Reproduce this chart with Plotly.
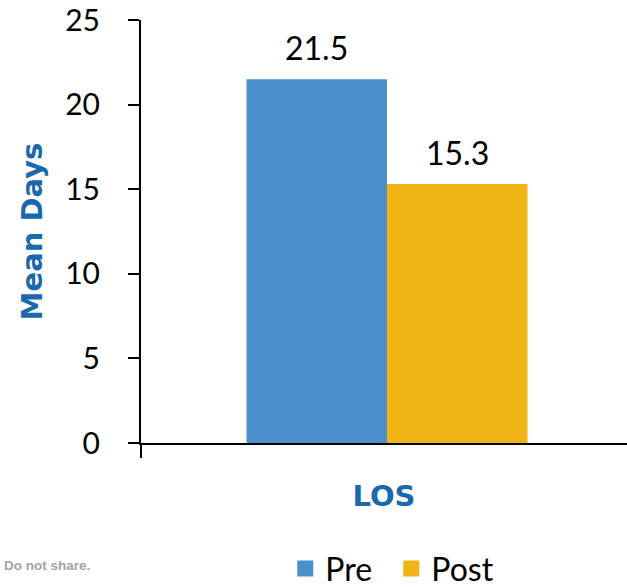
import plotly.graph_objects as go

categories = ["LOS"]
series_names = ["Pre", "Post"]
pre_values = [21.5]
post_values = [15.3]
y_ticks = [0, 5, 10, 15, 20, 25]

colors = {"Pre": "#4A90CD", "Post": "#F0B416"}
bar_w = 0.2856
offsets = {"Pre": -bar_w, "Post": 0.0}
values = {"Pre": pre_values, "Post": post_values}

fig = go.Figure()
for name in series_names:
    fig.add_trace(go.Bar(
        x=categories, y=values[name], name=name, showlegend=False,
        marker=dict(color=colors[name], line=dict(width=0)),
        width=bar_w, offset=offsets[name],
    ))
# legend entries with larger square swatches
for name in series_names:
    fig.add_trace(go.Scatter(
        x=[None], y=[None], name=name, mode="markers",
        marker=dict(symbol="square", size=22, color=colors[name]),
    ))

annotations = []
for name in series_names:
    for i, v in enumerate(values[name]):
        annotations.append(dict(
            x=i + offsets[name] + bar_w / 2, y=v, xref="x", yref="y",
            text=f"{v:.1f}", showarrow=False, yanchor="bottom", yshift=10,
            font=dict(family="Lato", size=32, color="black"),
        ))
annotations.append(dict(
    x=-0.285, y=-0.2885, xref="paper", yref="paper", xanchor="left", yanchor="middle",
    text="<b>Do not share.</b>", showarrow=False,
    font=dict(family="Liberation Sans", size=13.5, color="#A3A3A3"),
))

fig.update_layout(
    width=627, height=587,
    margin=dict(l=141, r=0, t=20, b=144, autoexpand=False),
    paper_bgcolor="white", plot_bgcolor="white",
    barmode="overlay",
    font=dict(family="Lato", color="black"),
    showlegend=True,
    legend=dict(orientation="h", x=0.515, xanchor="center", y=-0.232, yanchor="top",
                font=dict(family="Lato", size=32, color="black"),
                itemwidth=30, traceorder="normal", itemsizing="trace",
                entrywidth=61),
    annotations=annotations,
)
fig.update_xaxes(
    type="category", range=[-0.5, 0.4878],
    showline=True, linecolor="black", linewidth=2,
    tickvals=[-0.5], ticktext=[""], ticks="outside", ticklen=13, tickwidth=2, tickcolor="black",
    showgrid=False, zeroline=False,
    title=dict(text="<b>LOS</b>", font=dict(family="DejaVu Sans", size=29, color="#1A68AD"), standoff=26),
)
fig.update_yaxes(
    range=[0, 25], tickvals=y_ticks,
    showline=True, linecolor="black", linewidth=2,
    ticks="outside", ticklen=11, tickwidth=2, tickcolor="black",
    ticklabelstandoff=22, ticklabeloverflow="allow",
    showgrid=False, zeroline=False,
    tickfont=dict(family="Lato", size=30, color="black"),
    title=dict(text="<b>Mean Days</b>", font=dict(family="DejaVu Sans", size=29, color="#1A68AD"), standoff=14),
)
fig.write_html("out.html")
